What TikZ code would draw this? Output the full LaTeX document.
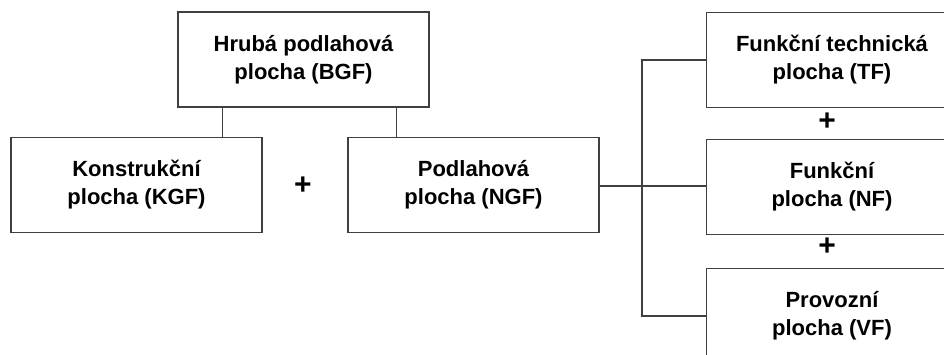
\documentclass[tikz,border=0pt]{standalone}
\usepackage{fontspec}
\setmainfont{Liberation Sans}
\begin{document}
\begin{tikzpicture}[x=1pt,y=-1pt,
  box/.style={draw=linec,line width=1.3pt,fill=white,minimum width=251pt,minimum height=95pt,inner sep=0pt,align=center,font=\fontsize{22}{28}\selectfont\bfseries},
  conn/.style={draw=linec,line width=1.5pt},
  plus/.style={font=\fontsize{30}{30}\selectfont\bfseries,inner sep=0pt}]
\definecolor{linec}{HTML}{404040}
\useasboundingbox (0,0) rectangle (944,355);
\node[box] (bgf) at (303.5,59.5) {Hrubá podlahová\\plocha (BGF)};
\node[box] (kgf) at (136.5,185) {Konstrukční\\plocha (KGF)};
\node[box] (ngf) at (473.5,185) {Podlahová\\plocha (NGF)};
\node[box] (tf) at (832,60) {Funkční technická\\plocha (TF)};
\node[box] (nf) at (832,187) {Funkční\\plocha (NF)};
\node[box] (vf) at (832,316) {Provozní\\plocha (VF)};
\node[plus] (p1) at (303,186) {+};
\node[plus] (p2) at (827,122) {+};
\node[plus] (p3) at (827,247) {+};
\coordinate (bus) at (642,186);
\draw[conn] ([xshift=45pt]bgf.south west) -- ([xshift=45pt]bgf.south west |- kgf.north);
\draw[conn] ([xshift=219pt]bgf.south west) -- ([xshift=219pt]bgf.south west |- ngf.north);
\draw[conn] (ngf.east |- bus) -- (nf.west |- bus);
\draw[conn] (tf.west) -| (bus) |- (vf.west);
\end{tikzpicture}
\end{document}
